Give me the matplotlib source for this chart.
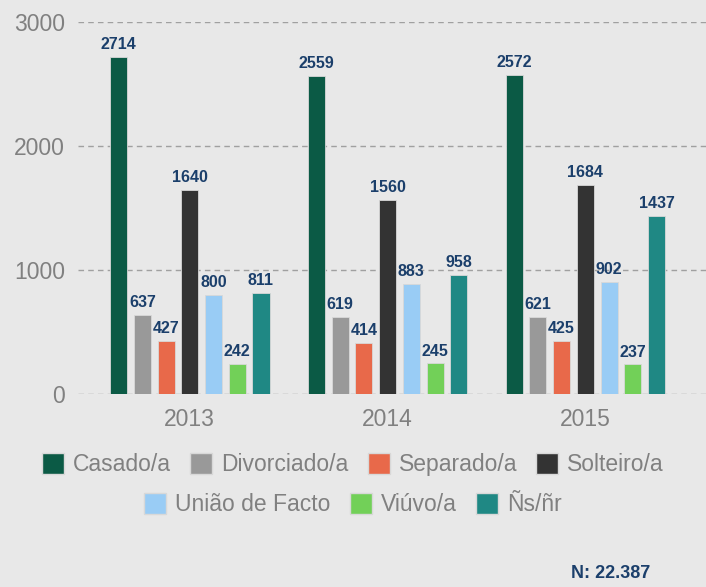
import numpy as np
import matplotlib
matplotlib.use('Agg')
import matplotlib.pyplot as plt
from matplotlib.patches import Patch

plt.rcParams['font.family'] = ['Liberation Sans', 'DejaVu Sans']

# Data
years = ['2013', '2014', '2015']
categories = ['Casado/a', 'Divorciado/a', 'Separado/a', 'Solteiro/a',
              'União de Facto', 'Viúvo/a', 'Ñs/ñr']
casado = [2714, 2559, 2572]
divorciado = [637, 619, 621]
separado = [427, 414, 425]
solteiro = [1640, 1560, 1684]
uniao = [800, 883, 902]
viuvo = [242, 245, 237]
nsnr = [811, 958, 1437]
series = [casado, divorciado, separado, solteiro, uniao, viuvo, nsnr]
colors = ['#0b5a45', '#999999', '#e8694a', '#333333', '#99ccf5', '#72d058', '#1f8884']

bg = '#e8e8e8'
fig = plt.figure(figsize=(7.06, 5.87), dpi=100, facecolor=bg)
ax = fig.add_axes([0.110, 0.329, 0.890, 0.634], facecolor=bg)

x = np.arange(len(years))
step = 0.12
width = 0.086
for i, (vals, c) in enumerate(zip(series, colors)):
    pos = x + (i - 3) * step
    bars = ax.bar(pos, vals, width, color=c, edgecolor='#d8d8d8', linewidth=0.6, zorder=3)
    for b, v in zip(bars, vals):
        ax.text(b.get_x() + b.get_width() / 2, v + 40, str(v), ha='center', va='bottom',
                fontsize=11.5, fontweight='bold', color='#1b3f6b', zorder=4)

ax.set_xlim(-0.567, 2.61)
ax.set_ylim(0, 3000)
ax.set_yticks([0, 1000, 2000, 3000])
ax.set_xticks(x)
ax.set_xticklabels(years)
ax.tick_params(axis='both', length=0, labelsize=16.5, labelcolor='#808080')
ax.tick_params(axis='y', pad=9)
ax.tick_params(axis='x', pad=10)
ax.yaxis.grid(True, linestyle=(0, (4, 3)), color='#a0a0a0', linewidth=1, zorder=0)
for s in ax.spines.values():
    s.set_visible(False)

handles = [Patch(facecolor=c, edgecolor='#d8d8d8', label=l) for c, l in zip(colors, categories)]
leg_kw = dict(loc='center', frameon=False, fontsize=16.5, handlelength=0.96,
              handleheight=1.0, handletextpad=0.4, columnspacing=0.83, labelcolor='#808080')
fig.legend(handles=handles[:4], bbox_to_anchor=(0.5, 0.208), ncol=4, **leg_kw)
fig.legend(handles=handles[4:], bbox_to_anchor=(0.5, 0.140), ncol=3, **leg_kw)

fig.text(0.865, 0.009, 'N: 22.387', ha='center', va='bottom', fontsize=13,
         fontweight='bold', color='#1b3f6b')

fig.savefig('out.png', dpi=100, facecolor=bg)
